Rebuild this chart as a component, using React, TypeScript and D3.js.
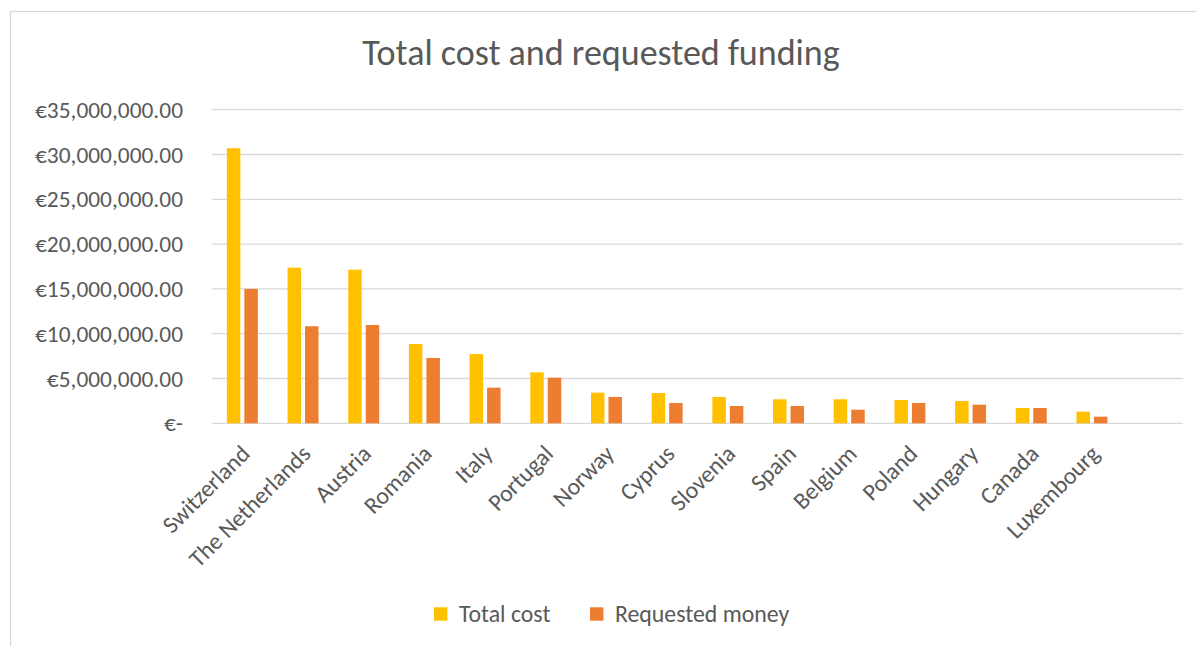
import React from "react";
import * as d3 from "d3";

const categories = [
  "Switzerland", "The Netherlands", "Austria", "Romania", "Italy", "Portugal",
  "Norway", "Cyprus", "Slovenia", "Spain", "Belgium", "Poland", "Hungary",
  "Canada", "Luxembourg", "",
];
const totalCost = [30.7, 17.37, 17.15, 8.85, 7.73, 5.69, 3.42, 3.38, 2.94, 2.68, 2.68, 2.6, 2.49, 1.71, 1.3, null];
const requestedMoney = [15.0, 10.83, 10.97, 7.29, 3.98, 5.09, 2.94, 2.27, 1.93, 1.93, 1.52, 2.27, 2.08, 1.71, 0.74, null];
const yTicks = [0, 5, 10, 15, 20, 25, 30, 35];
const seriesNames = ["Total cost", "Requested money"];
const seriesColors = ["#FFC000", "#ED7D31"];

const W = 1196;
const H = 646;
const FONT = "Carlito, Calibri, Lato, 'Open Sans', sans-serif";
const TEXT = "#595959";

function fmt(v: number) {
  if (v === 0) return "€-";
  return "€" + d3.format(",.2f")(v * 1e6);
}

export default function App() {
  const left = 212, right = 1183, top = 109.7, bottom = 423.3;
  const x = d3.scaleBand<string>().domain(categories.map((c, i) => i + ":" + c)).range([left, right]);
  const y = d3.scaleLinear().domain([0, 35]).range([bottom, top]);
  const step = x.step();
  const bw = step * 0.222;
  const gap = step * 0.066;
  const series = [totalCost, requestedMoney];

  return (
    <svg width={W} height={H} style={{ position: "absolute", left: 0, top: 0, background: "#fff" }}>
      <rect x={10.5} y={11.5} width={W + 10} height={H + 10} fill="#fff" stroke="#d9d9d9" strokeWidth={1.3} />
      <text x={601} y={65} textAnchor="middle" fontFamily={FONT} fontSize={36} fill={TEXT}>
        Total cost and requested funding
      </text>
      {yTicks.map((t) => (
        <g key={t}>
          <line x1={left} x2={right} y1={y(t)} y2={y(t)} stroke="#d9d9d9" strokeWidth={1.3} />
          <text x={183} y={y(t)} dy="0.35em" textAnchor="end" fontFamily={FONT} fontSize={23.4} fill={TEXT}>
            {fmt(t)}
          </text>
        </g>
      ))}
      {categories.map((c, i) => {
        const key = i + ":" + c;
        const cx = (x(key) as number) + step / 2;
        const groupW = bw * 2 + gap;
        return (
          <g key={key}>
            {series.map((s, si) => {
              const v = s[i];
              if (v == null) return null;
              const bx = cx - groupW / 2 + si * (bw + gap);
              return (
                <rect key={si} x={bx} y={y(v)} width={bw} height={bottom - y(v)} fill={seriesColors[si]} />
              );
            })}
            {c && (
              <text
                transform={`translate(${cx - 3},${bottom + 20}) rotate(-45)`}
                textAnchor="end"
                dy="0.71em"
                fontFamily={FONT}
                fontSize={23.8}
                fill={TEXT}
              >
                {c}
              </text>
            )}
          </g>
        );
      })}
      {seriesNames.map((n, i) => {
        const lx = [434, 590][i];
        return (
          <g key={n}>
            <rect x={lx} y={607.3} width={13.4} height={13.4} fill={seriesColors[i]} />
            <text x={lx + 25} y={614} dy="0.35em" fontFamily={FONT} fontSize={23.8} fill={TEXT}>
              {n}
            </text>
          </g>
        );
      })}
    </svg>
  );
}
